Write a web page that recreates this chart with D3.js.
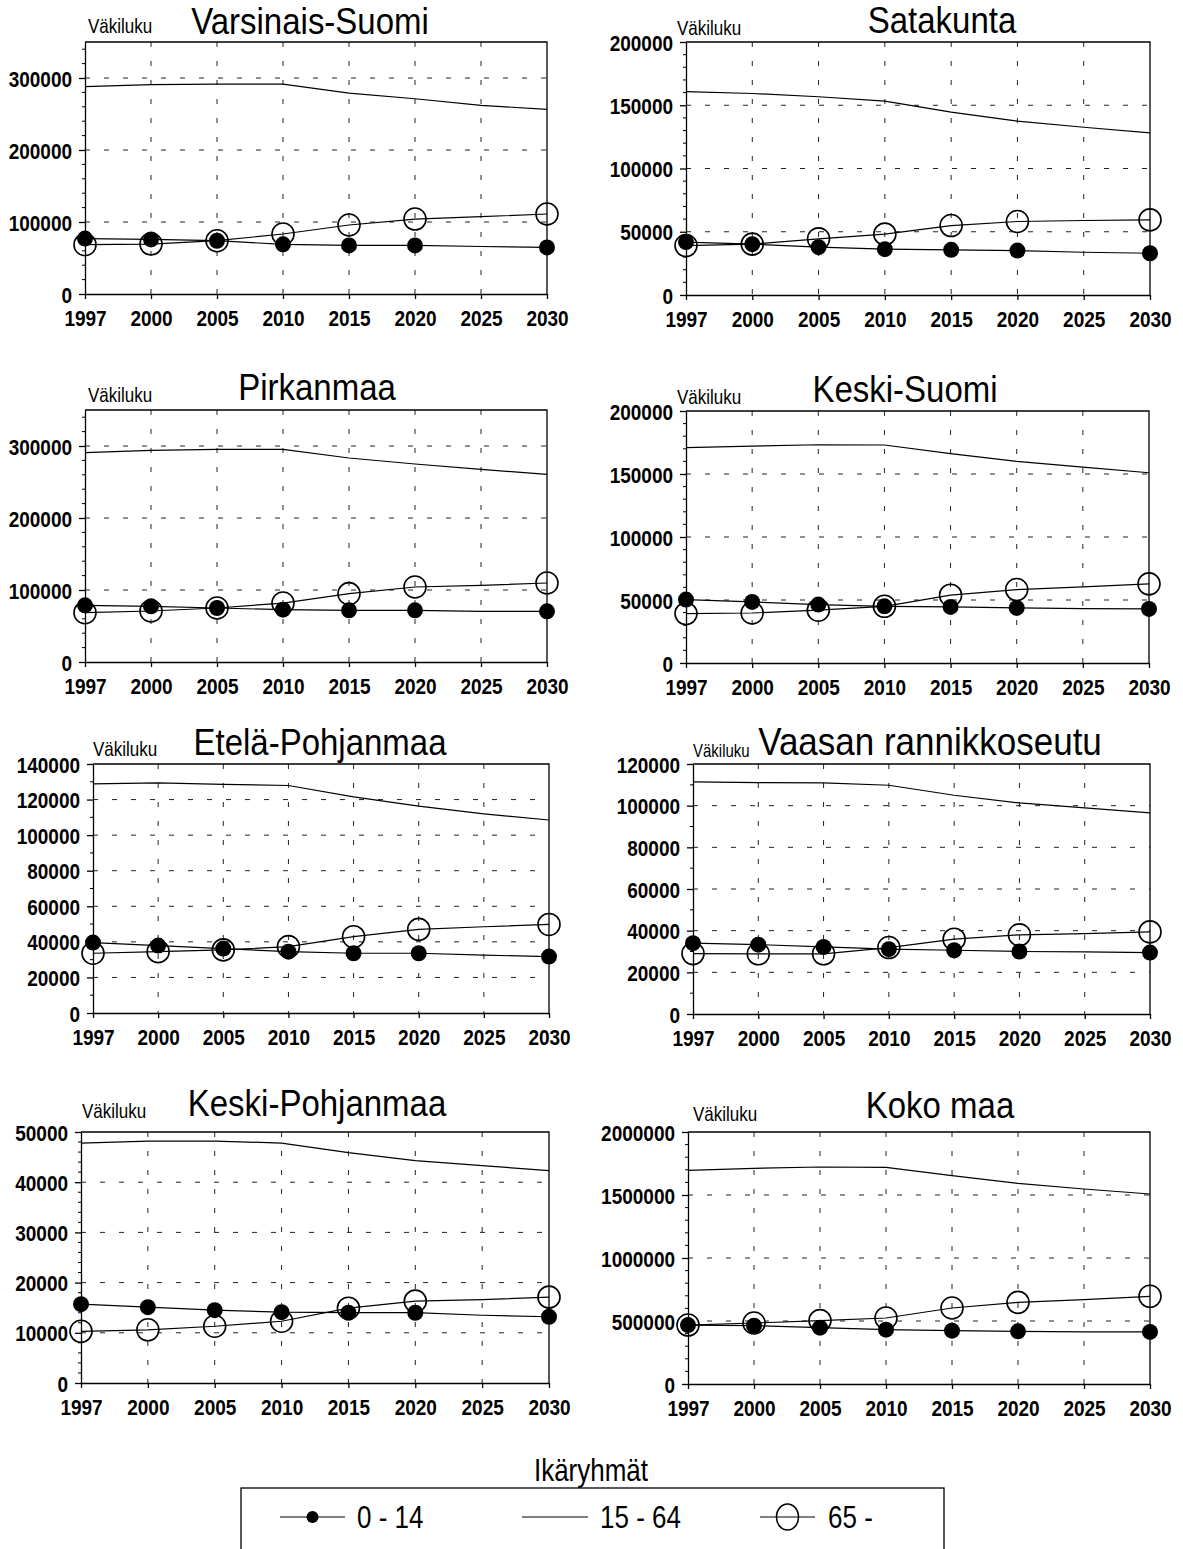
<!DOCTYPE html>
<html>
<head>
<meta charset="utf-8">
<script src="https://cdn.jsdelivr.net/npm/d3@7"></script>
<style>
  html, body { margin: 0; padding: 0; background: #fff; }
  svg { display: block; }
  text { font-family: "Liberation Sans", Arial, Helvetica, sans-serif; fill: #000; }
</style>
</head>
<body>
<svg id="chart" width="1183" height="1549"></svg>
<script>
// ---------- DATA ----------
const years = ["1997", "2000", "2005", "2010", "2015", "2020", "2025", "2030"];
const markerYears = ["1997", "2000", "2005", "2010", "2015", "2020", "2030"];
const regions = ["Varsinais-Suomi", "Satakunta", "Pirkanmaa", "Keski-Suomi",
  "Etelä-Pohjanmaa", "Vaasan rannikkoseutu", "Keski-Pohjanmaa", "Koko maa"];
const yMax = [350000, 200000, 350000, 200000, 140000, 120000, 50000, 2000000];
const yStep = [100000, 50000, 100000, 50000, 20000, 20000, 10000, 500000];
const yMinor = [20000, 10000, 20000, 10000, 10000, 10000, 2000, 100000];
const yAxisTitle = "Väkiluku";
const legendTitle = "Ikäryhmät";
const seriesNames = ["0 - 14", "15 - 64", "65 -"];

const age0_14 = [
  [77000, 75800, 74000, 69000, 67500, 67500, 66000, 64700],
  [41800, 40200, 37800, 36200, 35700, 35100, 33800, 33000],
  [78700, 77300, 75000, 72700, 71800, 71800, 70400, 70400],
  [50300, 48500, 46400, 45000, 44500, 43700, 43200, 42900],
  [39600, 37900, 36200, 34500, 33600, 33600, 32500, 31700],
  [34000, 33300, 32200, 31100, 30600, 30000, 29800, 29500],
  [15700, 15100, 14500, 14100, 14000, 14000, 13500, 13200],
  [468000, 463000, 447000, 431000, 423000, 418000, 413000, 413000]
];
const age15_64 = [
  [288000, 290700, 291600, 291600, 279000, 271200, 262000, 256400],
  [160700, 159300, 156700, 153200, 144500, 137400, 132600, 128200],
  [290700, 294000, 295400, 295400, 283300, 275000, 267600, 260600],
  [170900, 172200, 173200, 173000, 166100, 160000, 155500, 151000],
  [128800, 129400, 128600, 127900, 121500, 116300, 112000, 108500],
  [111400, 111100, 110900, 109800, 105000, 101300, 98900, 96500],
  [47800, 48200, 48200, 47800, 45900, 44300, 43300, 42300],
  [1695800, 1711600, 1722200, 1719600, 1653400, 1592600, 1547600, 1507900]
];
const age65 = [
  [68500, 69400, 74000, 83300, 95800, 104100, 107400, 111100],
  [39100, 40200, 44400, 48100, 54900, 58100, 58900, 59400],
  [68500, 70800, 75000, 81900, 94900, 104200, 106500, 109700],
  [39200, 39700, 41900, 45000, 53800, 58300, 60400, 62800],
  [33600, 34500, 35500, 37300, 42900, 47000, 48500, 49800],
  [29000, 28900, 28900, 31900, 35900, 38000, 38600, 39400],
  [10300, 10600, 11300, 12300, 14900, 16300, 16600, 17100],
  [468000, 484000, 503000, 524000, 603000, 648000, 669000, 696000]
];

// ---------- LAYOUT ----------
const SY = 1.18;   // vertical stretch of the printed type
const SYT = 1.1;   // stretch for panel titles
const boxes = [
  {l: 85,  r: 547,  t: 42,   b: 294,  tx: 310, ty: 34,   tf: 33, vx: 88,  vy: 33,   vf: 17},
  {l: 686, r: 1150, t: 42,   b: 295,  tx: 942, ty: 33,   tf: 33, vx: 677, vy: 35,   vf: 17},
  {l: 85,  r: 547,  t: 410,  b: 662,  tx: 317, ty: 400,  tf: 33, vx: 88,  vy: 402,  vf: 17},
  {l: 686, r: 1149, t: 411,  b: 663,  tx: 905, ty: 402,  tf: 33, vx: 677, vy: 404,  vf: 17},
  {l: 93,  r: 549,  t: 764,  b: 1013, tx: 320, ty: 755,  tf: 33, vx: 93,  vy: 756,  vf: 17},
  {l: 693, r: 1150, t: 764,  b: 1014, tx: 930, ty: 755,  tf: 35, vx: 693, vy: 757,  vf: 15},
  {l: 81,  r: 549,  t: 1132, b: 1383, tx: 317, ty: 1116, tf: 33, vx: 82,  vy: 1118, vf: 17},
  {l: 688, r: 1150, t: 1132, b: 1384, tx: 940, ty: 1118, tf: 33, vx: 693, vy: 1121, vf: 17}
];

const svg = d3.select("#chart");

function stretchText(g, x, y, str, size, anchor, sy) {
  return g.append("text")
    .attr("transform", `translate(${x},${y}) scale(1,${sy || SY})`)
    .attr("text-anchor", anchor || "start")
    .style("font-size", size + "px")
    .text(str);
}

regions.forEach((name, i) => {
  const bx = boxes[i];
  const g = svg.append("g");
  const x = d3.scalePoint().domain(years).range([bx.l, bx.r]);
  const y = d3.scaleLinear().domain([0, yMax[i]]).range([bx.b, bx.t]);
  const majors = d3.range(0, yMax[i] + 1, yStep[i]);
  const minors = d3.range(0, yMax[i] + 1, yMinor[i]).filter(v => v % yStep[i] !== 0);

  // grid (dashed)
  g.append("g").selectAll("line")
    .data(majors.filter(v => v > 0 && v < yMax[i]))
    .join("line")
    .attr("x1", bx.l).attr("x2", bx.r)
    .attr("y1", d => y(d)).attr("y2", d => y(d))
    .attr("stroke", "#222").attr("stroke-width", 1)
    .attr("stroke-dasharray", "5,14");
  g.append("g").selectAll("line")
    .data(years.slice(1, -1))
    .join("line")
    .attr("x1", d => x(d)).attr("x2", d => x(d))
    .attr("y1", bx.t).attr("y2", bx.b)
    .attr("stroke", "#222").attr("stroke-width", 1)
    .attr("stroke-dasharray", "5,14");

  // frame top/right
  g.append("path")
    .attr("d", `M${bx.l},${bx.t}H${bx.r}V${bx.b}`)
    .attr("fill", "none").attr("stroke", "#000").attr("stroke-width", 1.3);

  // minor y ticks
  g.append("g").selectAll("line")
    .data(minors)
    .join("line")
    .attr("x1", bx.l - 3).attr("x2", bx.l)
    .attr("y1", d => y(d)).attr("y2", d => y(d))
    .attr("stroke", "#000").attr("stroke-width", 1);

  // y axis
  const ya = g.append("g").attr("transform", `translate(${bx.l},0)`)
    .call(d3.axisLeft(y).tickValues(majors).tickFormat(d3.format("d"))
      .tickSize(6).tickSizeOuter(0).tickPadding(7));
  ya.select(".domain").attr("stroke-width", 1.3);
  ya.selectAll(".tick line").attr("stroke-width", 1.3);
  ya.selectAll(".tick text")
    .attr("font-family", null)
    .style("font-size", "19px").style("font-weight", "bold")
    .attr("dy", "0.36em")
    .attr("transform", `scale(1,${SY})`);

  // x axis
  const xa = g.append("g").attr("transform", `translate(0,${bx.b})`)
    .call(d3.axisBottom(x).tickSize(5).tickSizeOuter(0).tickPadding(8.5));
  xa.select(".domain").attr("stroke-width", 1.3);
  xa.selectAll(".tick line").attr("stroke-width", 1.3);
  xa.selectAll(".tick text")
    .attr("font-family", null)
    .style("font-size", "19px").style("font-weight", "bold")
    .attr("transform", `scale(1,${SY})`);

  // lines
  const line = d3.line().x((d, k) => x(years[k])).y(d => y(d));
  [age15_64[i], age0_14[i], age65[i]].forEach(s => {
    g.append("path").datum(s).attr("d", line)
      .attr("fill", "none").attr("stroke", "#000").attr("stroke-width", 1.2);
  });

  // markers
  const pts = (arr) => markerYears.map(yr => ({yr, v: arr[years.indexOf(yr)]}));
  g.append("g").selectAll("circle")
    .data(pts(age65[i]))
    .join("circle")
    .attr("cx", d => x(d.yr)).attr("cy", d => y(d.v)).attr("r", 11)
    .attr("fill", "none").attr("stroke", "#000").attr("stroke-width", 1.6);
  g.append("g").selectAll("circle")
    .data(pts(age0_14[i]))
    .join("circle")
    .attr("cx", d => x(d.yr)).attr("cy", d => y(d.v)).attr("r", 8)
    .attr("fill", "#000");

  // titles
  stretchText(g, bx.tx, bx.ty, name, bx.tf, "middle", SYT);
  stretchText(g, bx.vx, bx.vy, yAxisTitle, bx.vf, "start");
});

// ---------- LEGEND ----------
const lg = svg.append("g");
stretchText(lg, 591, 1481, legendTitle, 26, "middle");
lg.append("rect").attr("x", 241).attr("y", 1488).attr("width", 703).attr("height", 72)
  .attr("fill", "none").attr("stroke", "#000").attr("stroke-width", 1.3);
const legendItems = [
  {x1: 280, x2: 345, tx: 357},
  {x1: 522, x2: 588, tx: 600},
  {x1: 760, x2: 815, tx: 828}
];
legendItems.forEach((it, k) => {
  lg.append("line").attr("x1", it.x1).attr("x2", it.x2).attr("y1", 1517).attr("y2", 1517)
    .attr("stroke", "#000").attr("stroke-width", 1.2);
  const cx = (it.x1 + it.x2) / 2;
  if (k === 0) lg.append("circle").attr("cx", cx).attr("cy", 1517).attr("r", 6).attr("fill", "#000");
  if (k === 2) lg.append("ellipse").attr("cx", cx).attr("cy", 1517).attr("rx", 11).attr("ry", 13)
    .attr("fill", "none").attr("stroke", "#000").attr("stroke-width", 1.6);
  stretchText(lg, it.tx, 1528, seriesNames[k], 26, "start");
});
</script>
</body>
</html>
